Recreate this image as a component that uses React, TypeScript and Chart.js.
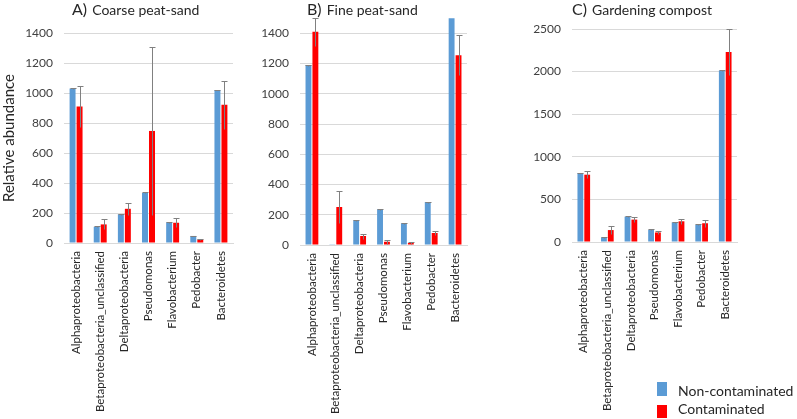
import React, { useEffect, useRef } from "react";
import { Chart, registerables } from "chart.js";

Chart.register(...registerables);

const CATEGORIES = [
  "Alphaproteobacteria",
  "Betaproteobacteria_unclassified",
  "Deltaproteobacteria",
  "Pseudomonas",
  "Flavobacterium",
  "Pedobacter",
  "Bacteroidetes",
];
const SERIES = ["Non-contaminated", "Contaminated"];

const A_NON = [1030, 108, 192, 334, 138, 47, 1020];
const A_CON = [910, 124, 228, 747, 135, 24, 921];
const A_NON_ERR = [3, 3, 3, 3, 3, 3, 3];
const A_CON_ERR = [135, 33, 40, 563, 29, 5, 160];

const B_NON = [1190, 2, 163, 236, 144, 284, 1600];
const B_CON = [1410, 252, 59, 22, 13, 80, 1255];
const B_NON_ERR = [3, 0, 3, 3, 3, 3, 3];
const B_CON_ERR = [92, 106, 17, 14, 5, 12, 133];

const C_NON = [810, 55, 298, 143, 231, 202, 2012];
const C_CON = [790, 140, 263, 112, 243, 220, 2230];
const C_NON_ERR = [5, 5, 5, 5, 5, 5, 5];
const C_CON_ERR = [40, 44, 31, 21, 31, 41, 270];

const Y_TICKS_A = { max: 1400, step: 200 };
const Y_TICKS_B = { max: 1500, step: 200 };
const Y_TICKS_C = { max: 2500, step: 500 };

const BLUE = "#5b9bd5";
const RED = "#ff0000";
const FONT = "Lato, 'Open Sans', sans-serif";

const errorBarPlugin = {
  id: "errorBars",
  afterDatasetsDraw(chart: any, _args: any, opts: any) {
    const errs = opts.errors || [];
    const ctx = chart.ctx;
    const ys = chart.scales.y;
    const area = chart.chartArea;
    ctx.save();
    ctx.beginPath();
    ctx.rect(area.left, area.top - 1, area.right - area.left, area.bottom - area.top + 2);
    ctx.clip();
    chart.data.datasets.forEach((ds: any, di: number) => {
      const e = errs[di];
      if (!e) return;
      const meta = chart.getDatasetMeta(di);
      meta.data.forEach((bar: any, i: number) => {
        const err = e[i];
        if (!err) return;
        const v = ds.data[i];
        const x = Math.round(bar.x) + 0.5;
        const t = Math.round(ys.getPixelForValue(v + err)) + 0.5;
        const b = Math.round(ys.getPixelForValue(Math.max(0, v - err))) + 0.5;
        ctx.strokeStyle = opts.color;
        ctx.lineWidth = 1;
        ctx.beginPath();
        ctx.moveTo(x, t);
        ctx.lineTo(x, b);
        ctx.moveTo(x - 3, t);
        ctx.lineTo(x + 3, t);
        ctx.stroke();
      });
    });
    ctx.restore();
  },
};

const panelTitlePlugin = {
  id: "panelTitle",
  afterDraw(chart: any, _args: any, opts: any) {
    const ctx = chart.ctx;
    ctx.save();
    ctx.fillStyle = "#262626";
    ctx.textBaseline = "alphabetic";
    ctx.textAlign = "left";
    ctx.font = `16px ${FONT}`;
    ctx.fillText(opts.prefix, opts.x, opts.y);
    const w = ctx.measureText(opts.prefix + " ").width;
    ctx.font = `14px ${FONT}`;
    ctx.fillText(opts.text, opts.x + w + 1, opts.y);
    ctx.restore();
  },
};

type PanelProps = {
  left: number;
  width: number;
  non: number[];
  con: number[];
  nonErr: number[];
  conErr: number[];
  yTicks: { max: number; step: number };
  yWidth: number;
  top: number;
  bottom: number;
  right: number;
  showYTitle: boolean;
  prefix: string;
  title: string;
  titleX: number;
};

function Panel(p: PanelProps) {
  const ref = useRef<HTMLCanvasElement | null>(null);
  useEffect(() => {
    if (!ref.current) return;
    const H = 419;
    const chart = new Chart(ref.current, {
      type: "bar",
      data: {
        labels: CATEGORIES,
        datasets: [
          { label: SERIES[0], data: p.non, backgroundColor: BLUE, borderWidth: 0 },
          { label: SERIES[1], data: p.con, backgroundColor: RED, borderWidth: 0 },
        ],
      },
      options: {
        responsive: false,
        animation: false,
        devicePixelRatio: 1,
        layout: { padding: { left: 0, top: p.top, right: p.width - p.right, bottom: 0 } },
        datasets: { bar: { categoryPercentage: 0.58, barPercentage: 0.85 } } as any,
        plugins: {
          legend: { display: false },
          tooltip: { enabled: false },
          errorBars: { errors: [p.nonErr, p.conErr], color: "#808080" },
          panelTitle: { prefix: p.prefix, text: p.title, x: p.titleX, y: 15 },
        } as any,
        scales: {
          x: {
            grid: { display: false, drawTicks: false },
            border: { display: true, color: "#d9d9d9" },
            ticks: {
              autoSkip: false,
              minRotation: 90,
              maxRotation: 90,
              padding: 8,
              color: "#262626",
              font: { family: FONT, size: 11.5 },
            },
            afterFit: (s: any) => {
              s.height = H - p.bottom;
            },
          },
          y: {
            min: 0,
            max: p.yTicks.max,
            grid: { color: "#d9d9d9", drawTicks: false },
            border: { display: false },
            ticks: {
              stepSize: p.yTicks.step,
              padding: 11,
              color: "#404040",
              font: { family: FONT, size: 12 },
              callback: (v: any) => String(v),
            },
            title: {
              display: p.showYTitle,
              text: "Relative abundance",
              color: "#262626",
              padding: 0,
              font: { family: FONT, size: 15 },
            },
            afterBuildTicks: (s: any) => {
              s.ticks = s.ticks.filter((t: any) => t.value % p.yTicks.step === 0);
            },
            afterFit: (s: any) => {
              s.width = p.yWidth;
            },
          },
        },
      },
      plugins: [errorBarPlugin, panelTitlePlugin],
    });
    return () => chart.destroy();
  }, []);
  return (
    <canvas
      ref={ref}
      width={p.width}
      height={419}
      style={{ position: "absolute", left: p.left, top: 0, width: p.width, height: 419 }}
    />
  );
}

export default function App() {
  return (
    <div
      style={{
        position: "fixed",
        left: 0,
        top: 0,
        width: 797,
        height: 419,
        background: "#ffffff",
        overflow: "hidden",
        fontFamily: FONT,
      }}
    >
      <Panel
        left={0}
        width={250}
        non={A_NON}
        con={A_CON}
        nonErr={A_NON_ERR}
        conErr={A_CON_ERR}
        yTicks={Y_TICKS_A}
        yWidth={64}
        top={33}
        bottom={243}
        right={233}
        showYTitle={true}
        prefix="A)"
        title="Coarse peat-sand"
        titleX={72}
      />
      <Panel
        left={250}
        width={250}
        non={B_NON}
        con={B_CON}
        nonErr={B_NON_ERR}
        conErr={B_CON_ERR}
        yTicks={Y_TICKS_B}
        yWidth={50}
        top={17}
        bottom={245}
        right={217}
        showYTitle={false}
        prefix="B)"
        title="Fine peat-sand"
        titleX={57}
      />
      <Panel
        left={500}
        width={297}
        non={C_NON}
        con={C_CON}
        nonErr={C_NON_ERR}
        conErr={C_CON_ERR}
        yTicks={Y_TICKS_C}
        yWidth={72}
        top={29}
        bottom={242}
        right={237}
        showYTitle={false}
        prefix="C)"
        title="Gardening compost"
        titleX={72}
      />
      <div style={{ position: "absolute", left: 657, top: 382, width: 10, height: 14, background: BLUE }} />
      <div
        style={{
          position: "absolute",
          left: 678,
          top: 381,
          fontSize: 14,
          lineHeight: "20px",
          color: "#262626",
          whiteSpace: "nowrap",
        }}
      >
        {SERIES[0]}
      </div>
      <div style={{ position: "absolute", left: 657, top: 405, width: 10, height: 13, background: RED }} />
      <div
        style={{
          position: "absolute",
          left: 678,
          top: 399,
          fontSize: 14,
          lineHeight: "20px",
          color: "#262626",
          whiteSpace: "nowrap",
        }}
      >
        {SERIES[1]}
      </div>
    </div>
  );
}
